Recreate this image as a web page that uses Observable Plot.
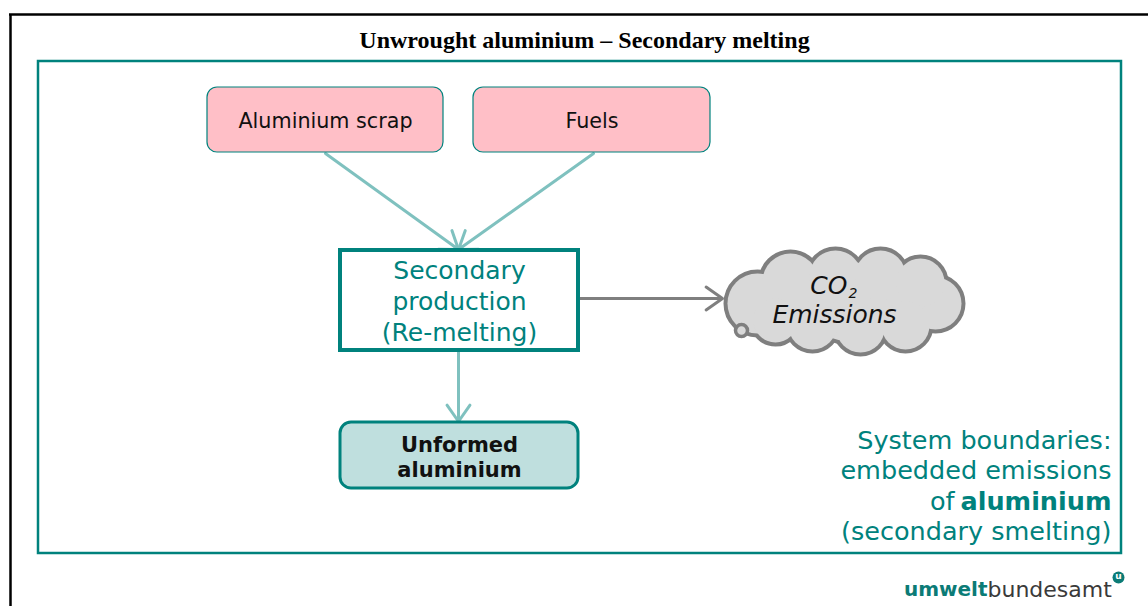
<!DOCTYPE html>
<html><head><meta charset="utf-8">
<script src="https://cdn.jsdelivr.net/npm/d3@7"></script>
<script src="https://cdn.jsdelivr.net/npm/@observablehq/plot@0.6"></script>
<style>html,body{margin:0;padding:0;background:#fff;overflow:hidden} svg{display:block}</style>
</head><body><div id="chart"></div>
<script>
// ---- Diagram content (layout units = pixels of the 1148x606 canvas) ----
const titleText = ["Unwrought aluminium – Secondary melting"];
const inputs = [
  {label: "Aluminium scrap", x1: 207, x2: 443, y1: 87, y2: 152},
  {label: "Fuels",           x1: 473, x2: 710, y1: 87, y2: 152}
];
const process = [{label: "Secondary\nproduction\n(Re-melting)", x1: 340, x2: 578, y1: 250, y2: 350}];
const product = [{label: "Unformed\naluminium", x1: 340, x2: 578, y1: 422, y2: 488}];
const boundary = [{x1: 38, x2: 1121, y1: 61, y2: 553}];
const materialFlows = [
  {x1: 325, y1: 153, x2: 458, y2: 249},
  {x1: 593, y1: 153, x2: 458, y2: 249},
  {x1: 458, y1: 351, x2: 458, y2: 421}
];
const emissionFlows = [{x1: 579, y1: 298, x2: 722, y2: 298}];
const cloudPuffs = [
  {x: 757, y: 303, r: 30}, {x: 790, y: 281, r: 28}, {x: 835, y: 276, r: 26},
  {x: 880, y: 275, r: 25}, {x: 920, y: 282, r: 24}, {x: 935, y: 303, r: 26},
  {x: 905, y: 325, r: 24}, {x: 860, y: 328, r: 24}, {x: 812, y: 325, r: 24},
  {x: 775, y: 320, r: 22}, {x: 845, y: 300, r: 40}, {x: 800, y: 300, r: 35},
  {x: 890, y: 300, r: 35}
];
const cloudTail = [{x: 741, y: 330, r: 6}];
const cloudMain = [{text: "CO", x: 847, y: 285}];
const cloudSub = [{text: "2", x: 848, y: 293}];
const cloudSecond = [{text: "Emissions", x: 834, y: 314}];
const boundaryRegular = [
  {text: "System boundaries:", y: 440, x: 1111},
  {text: "embedded emissions", y: 470, x: 1111},
  {text: "of", y: 501, x: 954},
  {text: "(secondary smelting)", y: 531, x: 1111}
];
const boundaryBold = [{text: "aluminium", y: 501, x: 1111}];
const logoBold = [{text: "umwelt", x: 987, y: 589}];
const logoRegular = [{text: "bundesamt", x: 987, y: 589}];
const logoMark = [{x: 1118, y: 577}];

const TEAL = "#00827d", LIGHT = "#7fc1bf", PINK = "#ffbfc7", PALE = "#bfdfde", GRAY = "#7f7f7f", FONT = "DejaVu Sans";
const W = 1148, H = 606;
const cx = d => (d.x1 + d.x2) / 2, cy = d => (d.y1 + d.y2) / 2;

const chart = Plot.plot({
  width: W, height: H, margin: 0,
  x: {domain: [0, W], range: [0, W], axis: null},
  y: {domain: [0, H], range: [0, H], axis: null},
  r: {type: "identity"},
  style: {background: "white"},
  marks: [
    // outer black frame
    Plot.ruleX([10], {y1: 14, y2: H, stroke: "black", strokeWidth: 2.5}),
    Plot.ruleY([14], {x1: 9, x2: W, stroke: "black", strokeWidth: 2.5}),
    Plot.text(titleText, {x: 584, y: 40, text: d => d, fontFamily: "Liberation Serif", fontWeight: "bold", fontSize: 24, fill: "black"}),
    // system boundary
    Plot.rect(boundary, {x1: "x1", x2: "x2", y1: "y1", y2: "y2", fill: "none", stroke: TEAL, strokeWidth: 2.5}),
    // flows
    Plot.arrow(materialFlows, {x1: "x1", y1: "y1", x2: "x2", y2: "y2", stroke: LIGHT, strokeWidth: 3, headLength: 10, headAngle: 70}),
    Plot.arrow(emissionFlows, {x1: "x1", y1: "y1", x2: "x2", y2: "y2", stroke: GRAY, strokeWidth: 3, headLength: 10, headAngle: 70}),
    // inputs
    Plot.rect(inputs, {x1: "x1", x2: "x2", y1: "y1", y2: "y2", fill: PINK, stroke: TEAL, strokeWidth: 1.2, rx: 10}),
    Plot.text(inputs, {x: cx, y: d => cy(d) + 1, text: "label", fontFamily: FONT, fontSize: 20.7, fill: "#111"}),
    // process
    Plot.rect(process, {x1: "x1", x2: "x2", y1: "y1", y2: "y2", fill: "white", stroke: TEAL, strokeWidth: 4}),
    Plot.text(process, {x: cx, y: cy, text: "label", fontFamily: FONT, fontSize: 25, lineHeight: 1.24, fill: TEAL}),
    // product
    Plot.rect(product, {x1: "x1", x2: "x2", y1: "y1", y2: "y2", fill: PALE, stroke: TEAL, strokeWidth: 3, rx: 11}),
    Plot.text(product, {x: cx, y: d => cy(d) + 1, text: "label", fontFamily: FONT, fontSize: 21, fontWeight: "bold", lineHeight: 1.19, fill: "#111"}),
    // cloud
    Plot.dot(cloudPuffs, {x: "x", y: "y", r: "r", fill: GRAY, stroke: GRAY, strokeWidth: 8}),
    Plot.dot(cloudPuffs, {x: "x", y: "y", r: "r", fill: "#d9d9d9"}),
    Plot.dot(cloudTail, {x: "x", y: "y", r: "r", fill: "#d9d9d9", stroke: GRAY, strokeWidth: 3.5}),
    Plot.text(cloudMain, {x: "x", y: "y", text: "text", fontSize: 25, textAnchor: "end", fontFamily: FONT, fontStyle: "italic", fill: "#111"}),
    Plot.text(cloudSub, {x: "x", y: "y", text: "text", fontSize: 14, textAnchor: "start", fontFamily: FONT, fontStyle: "italic", fill: "#111"}),
    Plot.text(cloudSecond, {x: "x", y: "y", text: "text", fontSize: 25, fontFamily: FONT, fontStyle: "italic", fill: "#111"}),
    // boundary description
    Plot.text(boundaryRegular, {x: "x", y: "y", text: "text", textAnchor: "end", fontFamily: FONT, fontSize: 25.5, fill: TEAL}),
    Plot.text(boundaryBold, {x: "x", y: "y", text: "text", textAnchor: "end", fontWeight: "bold", fontFamily: FONT, fontSize: 25.5, fill: TEAL}),
    // logo
    Plot.text(logoBold, {x: "x", y: "y", text: "text", textAnchor: "end", fontWeight: "bold", fill: "#0b7b76", fontFamily: FONT, fontSize: 20}),
    Plot.text(logoRegular, {x: "x", y: "y", text: "text", textAnchor: "start", fill: "#3a3a3a", fontFamily: FONT, fontSize: 22}),
    Plot.dot(logoMark, {x: "x", y: "y", r: 6, fill: "#0b7b76"}),
    Plot.text(logoMark, {x: "x", y: d => d.y - 1, text: () => "u", fill: "white", fontWeight: "bold", fontSize: 9, fontFamily: FONT})
  ]
});
document.getElementById("chart").append(chart);
</script></body></html>
